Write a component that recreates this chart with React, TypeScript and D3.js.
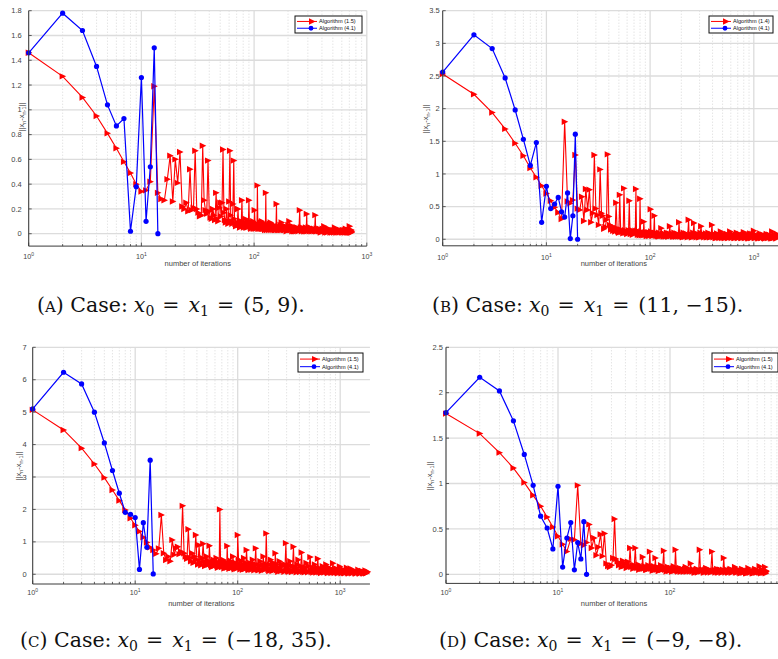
import React from "react";
import * as d3 from "d3";

// ---------- data ----------
const blueA = [1.46, 1.78, 1.64, 1.35, 1.04, 0.87, 0.93, 0.02, 0.38, 1.26, 0.1, 0.54, 1.5, 0.0];
const blueB = [2.56, 3.13, 2.92, 2.47, 1.98, 1.53, 1.13, 1.48, 0.26, 0.81, 0.47, 0.54, 0.64, 0.42, 0.34, 0.71, 0.01, 0.36, 1.61, 0.0];
const blueC = [5.1, 6.23, 5.87, 5.0, 4.05, 3.2, 2.5, 1.91, 1.85, 1.75, 0.15, 1.59, 0.83, 3.52, 0.01];
const blueD = [1.78, 2.17, 2.02, 1.69, 1.32, 0.98, 0.64, 0.51, 0.28, 0.97, 0.08, 0.4, 0.57, 0.05, 0.35, 0.17, 0.58, 0.0];

const redA: [number, number][] = [
  [1, 1.46], [2, 1.27], [3, 1.1], [4, 0.95], [5, 0.81], [6, 0.69], [7, 0.58], [8, 0.49], [9, 0.4], [10, 0.34],
  [11, 0.35], [12, 0.42], [13, 1.19], [14, 0.33], [15, 0.28], [16, 0.27], [17, 0.44], [18, 0.63], [19, 0.26], [20, 0.6],
  [21, 0.41], [22, 0.66], [23, 0.22], [24, 0.2], [25, 0.25], [26, 0.18], [27, 0.52], [28, 0.19], [29, 0.21], [30, 0.67],
  [31, 0.2], [32, 0.17], [33, 0.14], [34, 0.15], [35, 0.71], [36, 0.27], [37, 0.19], [38, 0.16], [39, 0.59], [40, 0.18],
  [41, 0.13], [42, 0.12], [43, 0.2], [44, 0.15], [45, 0.11], [46, 0.33], [47, 0.12], [48, 0.1], [49, 0.21], [50, 0.25],
  [51, 0.14], [52, 0.25], [53, 0.68], [54, 0.17], [55, 0.11], [56, 0.09], [57, 0.2], [58, 0.1], [59, 0.08], [60, 0.26],
  [61, 0.67], [62, 0.15], [63, 0.1], [64, 0.08], [65, 0.24], [66, 0.59], [67, 0.12], [68, 0.08], [69, 0.06], [70, 0.07],
  [71, 0.09], [72, 0.2], [73, 0.07], [74, 0.08], [75, 0.05], [76, 0.06], [77, 0.1], [78, 0.27], [79, 0.07], [80, 0.09],
  [81, 0.05], [82, 0.06], [83, 0.08], [84, 0.12], [85, 0.05], [86, 0.08], [87, 0.05], [88, 0.07], [89, 0.1], [90, 0.27],
  [91, 0.06], [92, 0.08], [93, 0.05], [94, 0.04], [95, 0.05], [96, 0.07], [97, 0.09], [98, 0.1], [99, 0.04], [100, 0.06],
  [101, 0.19], [102, 0.06], [103, 0.04], [104, 0.05], [105, 0.08], [106, 0.05], [107, 0.39], [108, 0.06], [109, 0.04], [110, 0.07],
  [111, 0.05], [112, 0.04], [113, 0.05], [114, 0.07], [115, 0.09], [116, 0.04], [117, 0.1], [118, 0.04], [119, 0.06], [120, 0.04],
  [121, 0.05], [122, 0.07], [123, 0.04], [124, 0.08], [125, 0.03], [126, 0.05], [127, 0.33], [128, 0.06], [129, 0.05], [130, 0.03],
  [131, 0.06], [132, 0.04], [133, 0.04], [134, 0.07], [135, 0.04], [136, 0.03], [137, 0.08], [138, 0.04], [140, 0.09], [141, 0.04],
  [142, 0.03], [143, 0.05], [145, 0.04], [146, 0.07], [147, 0.06], [148, 0.03], [150, 0.07], [151, 0.04], [153, 0.03], [154, 0.06],
  [155, 0.05], [156, 0.03], [158, 0.24], [159, 0.05], [160, 0.04], [162, 0.03], [163, 0.05], [164, 0.06], [165, 0.03], [167, 0.05],
  [168, 0.03], [170, 0.04], [171, 0.07], [173, 0.03], [175, 0.09], [176, 0.04], [178, 0.03], [180, 0.05], [182, 0.04], [184, 0.03],
  [186, 0.06], [188, 0.03], [190, 0.06], [192, 0.04], [194, 0.02], [196, 0.05], [198, 0.03], [200, 0.04], [201, 0.07], [203, 0.03],
  [205, 0.1], [207, 0.04], [209, 0.03], [211, 0.05], [212, 0.03], [214, 0.04], [216, 0.05], [218, 0.02], [220, 0.06], [222, 0.03],
  [225, 0.02], [227, 0.05], [230, 0.02], [232, 0.04], [235, 0.05], [237, 0.02], [240, 0.05], [243, 0.03], [247, 0.02], [250, 0.04],
  [254, 0.19], [256, 0.04], [258, 0.03], [260, 0.05], [262, 0.03], [265, 0.02], [268, 0.05], [271, 0.03], [275, 0.04], [278, 0.02],
  [282, 0.02], [285, 0.04], [288, 0.05], [290, 0.02], [293, 0.16], [295, 0.04], [297, 0.02], [300, 0.03], [304, 0.05], [308, 0.04],
  [311, 0.02], [315, 0.05], [318, 0.03], [322, 0.02], [326, 0.04], [330, 0.02], [335, 0.03], [340, 0.04], [344, 0.02], [349, 0.15],
  [352, 0.03], [355, 0.02], [358, 0.04], [360, 0.02], [365, 0.03], [370, 0.04], [375, 0.02], [380, 0.04], [385, 0.02], [390, 0.01],
  [395, 0.03], [400, 0.02], [405, 0.04], [410, 0.03], [414, 0.02], [418, 0.06], [423, 0.02], [428, 0.01], [434, 0.03], [440, 0.02],
  [445, 0.01], [450, 0.04], [455, 0.02], [460, 0.04], [467, 0.02], [475, 0.01], [482, 0.03], [490, 0.01], [497, 0.02], [505, 0.03],
  [512, 0.01], [520, 0.05], [527, 0.02], [535, 0.01], [542, 0.03], [550, 0.01], [557, 0.02], [565, 0.03], [572, 0.01], [580, 0.03],
  [590, 0.02], [600, 0.01], [610, 0.03], [620, 0.01], [628, 0.02], [635, 0.03], [642, 0.01], [650, 0.04], [658, 0.02], [665, 0.01],
  [672, 0.03], [680, 0.01], [686, 0.02], [692, 0.03], [698, 0.01], [704, 0.06], [708, 0.02], [712, 0.01], [716, 0.03], [720, 0.01],
  [724, 0.02], [728, 0.03], [732, 0.01], [735, 0.02],
];

const redB: [number, number][] = [
  [1, 2.53], [2, 2.22], [3, 1.94], [4, 1.69], [5, 1.47], [6, 1.28], [7, 1.09], [8, 0.95], [9, 0.82], [10, 0.7],
  [11, 0.59], [12, 0.49], [13, 0.41], [14, 0.31], [15, 1.8], [16, 0.58], [17, 0.55], [18, 0.6], [19, 1.29], [20, 0.47],
  [21, 0.45], [22, 0.65], [23, 0.28], [24, 0.77], [25, 0.45], [26, 0.76], [27, 0.26], [28, 0.4], [29, 1.29], [30, 0.47],
  [31, 0.37], [32, 0.22], [33, 1.07], [34, 0.4], [35, 0.36], [36, 0.16], [37, 0.19], [38, 0.3], [39, 1.3], [40, 0.35],
  [41, 0.22], [42, 0.15], [43, 0.2], [44, 0.13], [45, 0.18], [46, 0.12], [47, 0.56], [48, 0.17], [49, 0.12], [50, 0.1],
  [51, 0.68], [52, 0.15], [53, 0.11], [54, 0.13], [55, 0.09], [56, 0.78], [57, 0.14], [58, 0.1], [59, 0.12], [60, 0.08],
  [61, 0.1], [62, 0.14], [63, 0.59], [64, 0.12], [65, 0.08], [66, 0.11], [67, 0.14], [68, 0.07], [69, 0.12], [70, 0.1],
  [71, 0.09], [72, 0.13], [73, 0.77], [74, 0.1], [75, 0.13], [76, 0.07], [77, 0.1], [78, 0.12], [79, 0.06], [80, 0.62],
  [81, 0.09], [82, 0.12], [83, 0.06], [84, 0.09], [85, 0.1], [86, 0.06], [87, 0.27], [88, 0.1], [89, 0.07], [90, 0.11],
  [91, 0.09], [92, 0.06], [93, 0.05], [94, 0.1], [95, 0.08], [96, 0.11], [97, 0.06], [98, 0.05], [99, 0.1], [100, 0.07],
  [101, 0.46], [102, 0.12], [103, 0.07], [104, 0.1], [105, 0.05], [106, 0.09], [107, 0.08], [108, 0.06], [110, 0.36], [111, 0.1],
  [112, 0.06], [113, 0.09], [115, 0.05], [116, 0.08], [118, 0.09], [119, 0.05], [121, 0.04], [122, 0.1], [124, 0.07], [126, 0.05],
  [128, 0.17], [130, 0.06], [131, 0.05], [133, 0.09], [135, 0.04], [137, 0.07], [139, 0.08], [141, 0.04], [143, 0.05], [145, 0.1],
  [147, 0.07], [149, 0.04], [151, 0.04], [153, 0.09], [155, 0.2], [157, 0.06], [159, 0.05], [162, 0.09], [164, 0.06], [166, 0.04],
  [169, 0.04], [171, 0.1], [174, 0.08], [176, 0.04], [179, 0.04], [181, 0.09], [184, 0.06], [187, 0.04], [190, 0.26], [193, 0.06],
  [195, 0.04], [198, 0.09], [201, 0.05], [204, 0.04], [207, 0.03], [210, 0.1], [213, 0.08], [216, 0.04], [219, 0.04], [222, 0.09],
  [226, 0.06], [230, 0.03], [235, 0.3], [238, 0.06], [241, 0.04], [245, 0.08], [248, 0.05], [252, 0.03], [256, 0.03], [260, 0.1],
  [265, 0.25], [268, 0.05], [272, 0.04], [276, 0.09], [280, 0.03], [285, 0.05], [290, 0.08], [295, 0.03], [300, 0.03], [305, 0.1],
  [310, 0.2], [315, 0.05], [320, 0.04], [326, 0.08], [332, 0.03], [338, 0.05], [345, 0.09], [351, 0.03], [358, 0.03], [364, 0.1],
  [370, 0.06], [376, 0.03], [382, 0.03], [388, 0.08], [395, 0.22], [401, 0.04], [408, 0.03], [414, 0.08], [420, 0.05], [427, 0.02],
  [435, 0.02], [442, 0.09], [450, 0.07], [457, 0.03], [465, 0.02], [472, 0.06], [480, 0.12], [487, 0.03], [495, 0.02], [502, 0.08],
  [510, 0.05], [520, 0.02], [530, 0.02], [540, 0.07], [550, 0.08], [560, 0.02], [570, 0.02], [580, 0.06], [590, 0.12], [600, 0.03],
  [610, 0.02], [622, 0.08], [635, 0.06], [647, 0.02], [660, 0.02], [672, 0.07], [685, 0.1], [697, 0.02], [710, 0.02], [725, 0.08],
  [740, 0.05], [755, 0.02], [770, 0.02], [785, 0.07], [800, 0.11], [815, 0.02], [830, 0.02], [845, 0.08], [860, 0.06], [875, 0.02],
  [890, 0.01], [905, 0.07], [920, 0.09], [935, 0.02], [950, 0.02], [968, 0.08], [985, 0.05], [1000, 0.13], [1015, 0.02], [1030, 0.02],
  [1050, 0.07], [1070, 0.06], [1090, 0.02], [1110, 0.01], [1130, 0.07], [1150, 0.09], [1170, 0.02], [1190, 0.02], [1210, 0.06], [1230, 0.07],
  [1255, 0.02], [1280, 0.01], [1305, 0.06], [1330, 0.08], [1355, 0.02], [1380, 0.02], [1405, 0.07], [1430, 0.06], [1455, 0.02], [1480, 0.01],
  [1500, 0.12], [1525, 0.02], [1550, 0.02], [1575, 0.07], [1600, 0.07], [1625, 0.02], [1650, 0.01], [1675, 0.08], [1700, 0.05],
];

const redC: [number, number][] = [
  [1, 5.07], [2, 4.45], [3, 3.89], [4, 3.4], [5, 2.98], [6, 2.6], [7, 2.27], [8, 1.98], [9, 1.73], [10, 1.51],
  [11, 1.32], [12, 1.14], [13, 0.98], [14, 0.83], [15, 0.75], [16, 0.63], [17, 0.8], [18, 1.83], [19, 0.65], [20, 0.44],
  [21, 0.55], [22, 0.4], [23, 1.06], [24, 0.6], [25, 0.8], [26, 0.85], [27, 0.62], [28, 0.7], [29, 2.11], [30, 0.65],
  [31, 0.55], [32, 0.48], [33, 1.39], [34, 0.52], [35, 0.4], [36, 0.65], [37, 0.35], [38, 0.55], [39, 1.21], [40, 0.45],
  [41, 0.3], [42, 0.9], [43, 0.38], [44, 0.28], [45, 0.5], [46, 0.94], [47, 0.4], [48, 0.25], [49, 0.35], [50, 0.55],
  [51, 0.42], [52, 0.3], [53, 0.88], [54, 0.35], [55, 0.28], [56, 0.22], [57, 0.38], [58, 0.45], [59, 0.3], [60, 0.28],
  [61, 0.4], [62, 0.5], [63, 0.26], [64, 0.2], [65, 0.3], [66, 0.35], [67, 2.0], [68, 0.4], [69, 0.3], [70, 0.22],
  [71, 0.32], [72, 0.45], [73, 0.25], [74, 0.18], [75, 0.3], [76, 0.38], [77, 0.24], [78, 0.2], [79, 0.87], [80, 0.35],
  [81, 0.3], [82, 0.22], [83, 0.17], [84, 0.3], [85, 0.42], [86, 0.25], [87, 0.2], [88, 0.2], [89, 0.35], [90, 0.55],
  [91, 0.28], [92, 0.2], [93, 0.15], [94, 0.25], [96, 0.35], [97, 0.22], [98, 0.18], [99, 0.3],
  [100, 1.21], [102, 0.45], [103, 0.3], [105, 0.22], [106, 0.15], [108, 0.28], [109, 0.4], [111, 0.2], [112, 0.14], [114, 0.3],
  [115, 0.5], [117, 0.22], [118, 0.16], [120, 0.35], [122, 0.75], [124, 0.3], [125, 0.2], [127, 0.15], [128, 0.13], [130, 0.25],
  [132, 0.35], [134, 0.18], [136, 0.14], [138, 0.3], [140, 0.45], [142, 0.2], [145, 0.12], [147, 0.3], [150, 0.8], [152, 0.3],
  [155, 0.18], [157, 0.14], [160, 0.12], [163, 0.28], [166, 0.4], [169, 0.16], [172, 0.11], [175, 0.3], [178, 0.55], [181, 0.2],
  [184, 0.14], [187, 0.28], [190, 1.26], [193, 0.3], [196, 0.2], [199, 0.14], [203, 0.1], [206, 0.3], [210, 0.45], [214, 0.15],
  [218, 0.1], [221, 0.25], [225, 0.35], [229, 0.14], [233, 0.65], [236, 0.2], [240, 0.12], [244, 0.3], [248, 0.08], [252, 0.2],
  [256, 0.4], [260, 0.14], [265, 0.1], [270, 0.25], [275, 0.3], [280, 0.12], [285, 0.08], [290, 0.3], [295, 0.96], [300, 0.2],
  [305, 0.15], [310, 0.1], [315, 0.08], [320, 0.28], [325, 0.4], [331, 0.12], [337, 0.07], [343, 0.25], [350, 0.85], [356, 0.15],
  [362, 0.1], [368, 0.22], [375, 0.06], [382, 0.3], [390, 0.45], [397, 0.12], [405, 0.07], [412, 0.25], [420, 0.67], [427, 0.12],
  [435, 0.08], [442, 0.2], [450, 0.06], [459, 0.22], [468, 0.35], [476, 0.1], [485, 0.06], [497, 0.25], [510, 0.53], [518, 0.12],
  [525, 0.07], [535, 0.2], [545, 0.05], [555, 0.18], [565, 0.3], [575, 0.08], [585, 0.05], [595, 0.2], [605, 0.48], [615, 0.1],
  [625, 0.06], [638, 0.18], [650, 0.04], [662, 0.15], [675, 0.25], [688, 0.08], [700, 0.05], [715, 0.18], [730, 0.3], [745, 0.06],
  [760, 0.04], [775, 0.14], [790, 0.2], [805, 0.06], [820, 0.04], [835, 0.15], [850, 0.34], [865, 0.07], [880, 0.04], [897, 0.12],
  [915, 0.18], [932, 0.05], [950, 0.03], [970, 0.12], [990, 0.24], [1010, 0.05], [1030, 0.03], [1050, 0.1], [1070, 0.15], [1090, 0.04],
  [1110, 0.03], [1135, 0.11], [1160, 0.2], [1185, 0.04], [1210, 0.02], [1235, 0.1], [1260, 0.18], [1285, 0.04], [1310, 0.03], [1340, 0.08],
  [1370, 0.12], [1400, 0.03], [1430, 0.02], [1465, 0.08], [1500, 0.14], [1530, 0.03], [1560, 0.02], [1595, 0.07], [1630, 0.1], [1665, 0.03],
  [1700, 0.02], [1730, 0.07], [1760, 0.12], [1780, 0.03], [1800, 0.03], [1825, 0.06], [1850, 0.08],
];

const redD: [number, number][] = [
  [1, 1.77], [2, 1.55], [3, 1.34], [4, 1.17], [5, 1.01], [6, 0.87], [7, 0.75], [8, 0.63], [9, 0.52], [10, 0.42],
  [11, 0.33], [12, 0.25], [13, 0.39], [14, 0.38], [15, 0.98], [16, 0.34], [17, 0.32], [18, 0.35], [19, 0.55], [20, 0.29],
  [21, 0.4], [22, 0.21], [23, 0.3], [24, 0.44], [25, 0.2], [26, 0.45], [27, 0.12], [28, 0.09], [29, 0.08], [30, 0.1],
  [31, 0.18], [32, 0.61], [33, 0.17], [34, 0.14], [35, 0.1], [36, 0.12], [37, 0.08], [38, 0.15], [39, 0.09], [40, 0.12],
  [41, 0.07], [42, 0.14], [43, 0.09], [44, 0.29], [45, 0.08], [46, 0.1], [47, 0.06], [48, 0.1], [49, 0.29], [50, 0.08],
  [51, 0.07], [52, 0.11], [53, 0.05], [54, 0.08], [55, 0.09], [56, 0.06], [57, 0.19], [58, 0.06], [59, 0.09], [60, 0.08],
  [61, 0.05], [62, 0.05], [63, 0.08], [64, 0.1], [65, 0.06], [66, 0.25], [67, 0.07], [68, 0.06], [69, 0.08], [70, 0.04],
  [71, 0.06], [72, 0.09], [73, 0.05], [74, 0.18], [75, 0.06], [76, 0.05], [77, 0.08], [78, 0.07], [79, 0.04], [80, 0.04],
  [81, 0.07], [83, 0.1], [84, 0.05], [85, 0.05], [86, 0.08], [88, 0.26], [89, 0.06], [90, 0.05], [92, 0.07], [93, 0.03],
  [95, 0.06], [96, 0.08], [98, 0.04], [99, 0.04], [101, 0.06], [102, 0.07], [104, 0.03], [105, 0.03], [107, 0.07], [108, 0.09],
  [110, 0.04], [112, 0.27], [114, 0.05], [115, 0.04], [117, 0.06], [118, 0.03], [120, 0.05], [122, 0.07], [124, 0.03], [126, 0.03],
  [128, 0.06], [130, 0.05], [132, 0.03], [134, 0.03], [136, 0.06], [138, 0.08], [140, 0.03], [143, 0.03], [145, 0.05], [148, 0.06],
  [150, 0.03], [153, 0.12], [155, 0.04], [158, 0.03], [160, 0.05], [163, 0.05], [165, 0.02], [168, 0.02], [171, 0.05], [174, 0.06],
  [177, 0.02], [180, 0.03], [184, 0.27], [187, 0.04], [190, 0.03], [193, 0.05], [196, 0.05], [200, 0.02], [203, 0.02], [206, 0.05],
  [210, 0.07], [214, 0.03], [218, 0.02], [222, 0.05], [226, 0.05], [231, 0.02], [237, 0.25], [241, 0.04], [245, 0.03], [249, 0.05],
  [254, 0.02], [258, 0.04], [263, 0.06], [267, 0.02], [272, 0.02], [277, 0.05], [282, 0.05], [287, 0.02], [292, 0.02], [297, 0.05],
  [302, 0.18], [307, 0.03], [312, 0.02], [317, 0.04], [323, 0.05], [329, 0.02], [335, 0.02], [341, 0.05], [347, 0.06], [353, 0.02],
  [360, 0.02], [366, 0.04], [372, 0.04], [380, 0.08], [387, 0.02], [395, 0.02], [402, 0.04], [410, 0.05], [417, 0.02], [425, 0.01],
  [432, 0.04], [440, 0.06], [447, 0.02], [455, 0.02], [462, 0.04], [470, 0.04], [477, 0.01], [485, 0.01], [492, 0.04], [500, 0.07],
  [509, 0.02], [518, 0.02], [526, 0.04], [535, 0.04], [545, 0.01], [555, 0.01], [565, 0.04], [575, 0.06], [585, 0.02], [595, 0.02],
  [605, 0.04], [615, 0.04], [622, 0.02], [630, 0.09], [640, 0.02], [650, 0.01], [660, 0.04], [670, 0.05], [680, 0.02], [690, 0.02],
  [697, 0.04], [705, 0.08], [710, 0.02], [715, 0.01], [720, 0.04], [725, 0.03],
];

const yTicksA = [0, 0.2, 0.4, 0.6, 0.8, 1, 1.2, 1.4, 1.6, 1.8];
const yTicksB = [0, 0.5, 1, 1.5, 2, 2.5, 3, 3.5];
const yTicksC = [0, 1, 2, 3, 4, 5, 6, 7];
const yTicksD = [0, 0.5, 1, 1.5, 2, 2.5];

const legendA = ["Algorithm (1.5)", "Algorithm (4.1)"];
const legendB = ["Algorithm (1.4)", "Algorithm (4.1)"];
const legendC = ["Algorithm (1.5)", "Algorithm (4.1)"];
const legendD = ["Algorithm (1.5)", "Algorithm (4.1)"];

const captionLetters = ["A", "B", "C", "D"];
const captionPoints = ["(5, 9).", "(11, \u221215).", "(\u221218, 35).", "(\u22129, \u22128)."];

const xLabel = "number of iterations";

// ---------- layout ----------
const panels = [
  { red: redA, blue: blueA, yTicks: yTicksA, legend: legendA, left: 28.7, decade: 112.7, xMax: 1000, top: 10.7, bottom: 246.1, yMin: -0.1, yMax: 1.8,
    lg: { x: 295, y: 16, w: 67, h: 17 }, yl: { x: 24, y: 117 }, tickGap: 7, xTickY: 259, xLabelY: 266 },
  { red: redB, blue: blueB, yTicks: yTicksB, legend: legendB, left: 442.7, decade: 103.7, xMax: 2000, top: 10.7, bottom: 245.8, yMin: -0.1, yMax: 3.5,
    lg: { x: 709, y: 16, w: 64, h: 17 }, yl: { x: 428, y: 119 }, tickGap: 3, xTickY: 260, xLabelY: 266 },
  { red: redC, blue: blueC, yTicks: yTicksC, legend: legendC, left: 32.7, decade: 102.5, xMax: 1950, top: 347.3, bottom: 584, yMin: -0.3, yMax: 7,
    lg: { x: 298, y: 353, w: 65, h: 19 }, yl: { x: 21, y: 466 }, tickGap: 6, xTickY: 595, xLabelY: 606 },
  { red: redD, blue: blueD, yTicks: yTicksD, legend: legendD, left: 446, decade: 112, xMax: 1000, top: 347.3, bottom: 583.4, yMin: -0.1, yMax: 2.5,
    lg: { x: 712, y: 353, w: 66, h: 19 }, yl: { x: 432, y: 476 }, tickGap: 3, xTickY: 595, xLabelY: 606 },
];

const captionPos = [
  { x: 37, y: 312 },
  { x: 432, y: 312 },
  { x: 20, y: 647 },
  { x: 439, y: 647 },
];

const SANS = "'Liberation Sans', Arial, Helvetica, sans-serif";
const SERIF = "'DejaVu Serif', 'Liberation Serif', serif";
const RED = "#ff0000";
const BLUE = "#0000ff";
const TRI = "M-3,-3.2L3.6,0L-3,3.2Z";

function Panel({ p }: { p: (typeof panels)[number] }) {
  const right = p.left + Math.log10(p.xMax) * p.decade;
  const x = d3.scaleLog().domain([1, p.xMax]).range([p.left, right]);
  const y = d3.scaleLinear().domain([p.yMin, p.yMax]).range([p.bottom, p.top]);

  const minor: number[] = [];
  const major: number[] = [];
  for (let d = 0; d <= 4; d++) {
    const base = Math.pow(10, d);
    if (base <= p.xMax) major.push(base);
    for (let k = 2; k <= 9; k++) if (k * base <= p.xMax) minor.push(k * base);
  }

  const line = d3
    .line<[number, number]>()
    .x((d) => x(d[0]))
    .y((d) => y(d[1]));
  const bluePts: [number, number][] = p.blue.map((v, i) => [i + 1, v]);
  const fmt = (v: number) => String(+v.toFixed(1));
  const grid = "#dcdcdc";
  const axis = "#3a3a3a";

  return (
    <g>
      {/* grid */}
      {minor.map((v) => (
        <line key={"mn" + v} x1={x(v)} x2={x(v)} y1={p.top} y2={p.bottom} stroke="#cfcfcf" strokeWidth={0.8} strokeDasharray="1,2" />
      ))}
      {major.map((v) => (
        <line key={"mj" + v} x1={x(v)} x2={x(v)} y1={p.top} y2={p.bottom} stroke={grid} strokeWidth={1.3} />
      ))}
      {p.yTicks.map((v) => (
        <line key={"gy" + v} x1={p.left} x2={right} y1={y(v)} y2={y(v)} stroke={grid} strokeWidth={1.3} />
      ))}

      {/* red series */}
      <path d={line(p.red) || ""} fill="none" stroke={RED} strokeWidth={1.1} />
      {p.red.map((d, i) => (
        <path key={"r" + i} d={TRI} transform={`translate(${x(d[0])},${y(d[1])})`} fill={RED} />
      ))}
      {/* blue series */}
      <path d={line(bluePts) || ""} fill="none" stroke={BLUE} strokeWidth={1.2} />
      {bluePts.map((d, i) => (
        <circle key={"b" + i} cx={x(d[0])} cy={y(d[1])} r={2.6} fill={BLUE} />
      ))}

      {/* axes */}
      <line x1={p.left} x2={p.left} y1={p.top} y2={p.bottom} stroke={axis} strokeWidth={1} />
      <line x1={p.left} x2={right} y1={p.bottom} y2={p.bottom} stroke={axis} strokeWidth={1} />
      {p.yTicks.map((v) => (
        <g key={"ty" + v}>
          <line x1={p.left} x2={p.left + 3} y1={y(v)} y2={y(v)} stroke={axis} strokeWidth={0.8} />
          <text x={p.left - p.tickGap} y={y(v)} dy="0.35em" textAnchor="end" fontSize={7.5} fill="#444" fontFamily={SANS}>
            {fmt(v)}
          </text>
        </g>
      ))}
      {minor.map((v) => (
        <line key={"tmn" + v} x1={x(v)} x2={x(v)} y1={p.bottom} y2={p.bottom - 2} stroke={axis} strokeWidth={0.8} />
      ))}
      {major.map((v) => (
        <g key={"tmj" + v}>
          <line x1={x(v)} x2={x(v)} y1={p.bottom} y2={p.bottom - 3.5} stroke={axis} strokeWidth={0.8} />
          {x(v) < 770 && (
            <text x={x(v)} y={p.xTickY} textAnchor="middle" fontSize={7.2} fill="#444" fontFamily={SANS}>
              10
              <tspan fontSize={5} dy={-3.5}>
                {Math.round(Math.log10(v))}
              </tspan>
            </text>
          )}
        </g>
      ))}
      <text x={(p.left + right) / 2} y={p.xLabelY} textAnchor="middle" fontSize={7.5} fill="#444" fontFamily={SANS}>
        {xLabel}
      </text>
      <text transform={`translate(${p.yl.x},${p.yl.y}) rotate(-90)`} textAnchor="middle" fontSize={7.5} fill="#444" fontFamily={SANS}>
        ||x<tspan fontSize={5.5} dy={2}>n</tspan>
        <tspan dy={-2}>-x</tspan>
        <tspan fontSize={5.5} dy={2}>n-1</tspan>
        <tspan dy={-2}>||</tspan>
      </text>

      {/* legend */}
      <rect x={p.lg.x} y={p.lg.y} width={p.lg.w} height={p.lg.h} fill="#fff" stroke="#111" strokeWidth={1} />
      {[0, 1].map((i) => {
        const cy = p.lg.y + p.lg.h * (i === 0 ? 0.32 : 0.72);
        const lx0 = p.lg.x + 2;
        const lx1 = p.lg.x + 22;
        return (
          <g key={"lg" + i}>
            <line x1={lx0} x2={lx1} y1={cy} y2={cy} stroke={i === 0 ? RED : BLUE} strokeWidth={1} />
            {i === 0 ? (
              <path d={TRI} transform={`translate(${lx1 - 5},${cy})`} fill={RED} />
            ) : (
              <circle cx={lx1 - 6} cy={cy} r={2.4} fill={BLUE} />
            )}
            <text x={lx1 + 2} y={cy} dy="0.35em" fontSize={5.6} fill="#111" fontFamily={SANS}>
              {p.legend[i]}
            </text>
          </g>
        );
      })}
    </g>
  );
}

function Caption({ i }: { i: number }) {
  const c = captionPos[i];
  return (
    <text x={c.x} y={c.y} fontSize={20.5} fontFamily={SERIF} fill="#111">
      (<tspan fontSize={15}>{captionLetters[i]}</tspan>) Case:
      <tspan dx={6} fontStyle="italic">x</tspan>
      <tspan fontSize={14} dy={4}>0</tspan>
      <tspan dx={8} dy={-4}>=</tspan>
      <tspan dx={9} fontStyle="italic">x</tspan>
      <tspan fontSize={14} dy={4}>1</tspan>
      <tspan dx={8} dy={-4}>=</tspan>
      <tspan dx={9}>{captionPoints[i]}</tspan>
    </text>
  );
}

export default function App() {
  return (
    <svg
      width={778}
      height={659}
      viewBox="0 0 778 659"
      style={{ position: "absolute", left: 0, top: 0, background: "#fff", display: "block" }}
    >
      <rect width={778} height={659} fill="#fff" />
      {panels.map((p, i) => (
        <Panel key={i} p={p} />
      ))}
      {captionLetters.map((_, i) => (
        <Caption key={"c" + i} i={i} />
      ))}
    </svg>
  );
}
